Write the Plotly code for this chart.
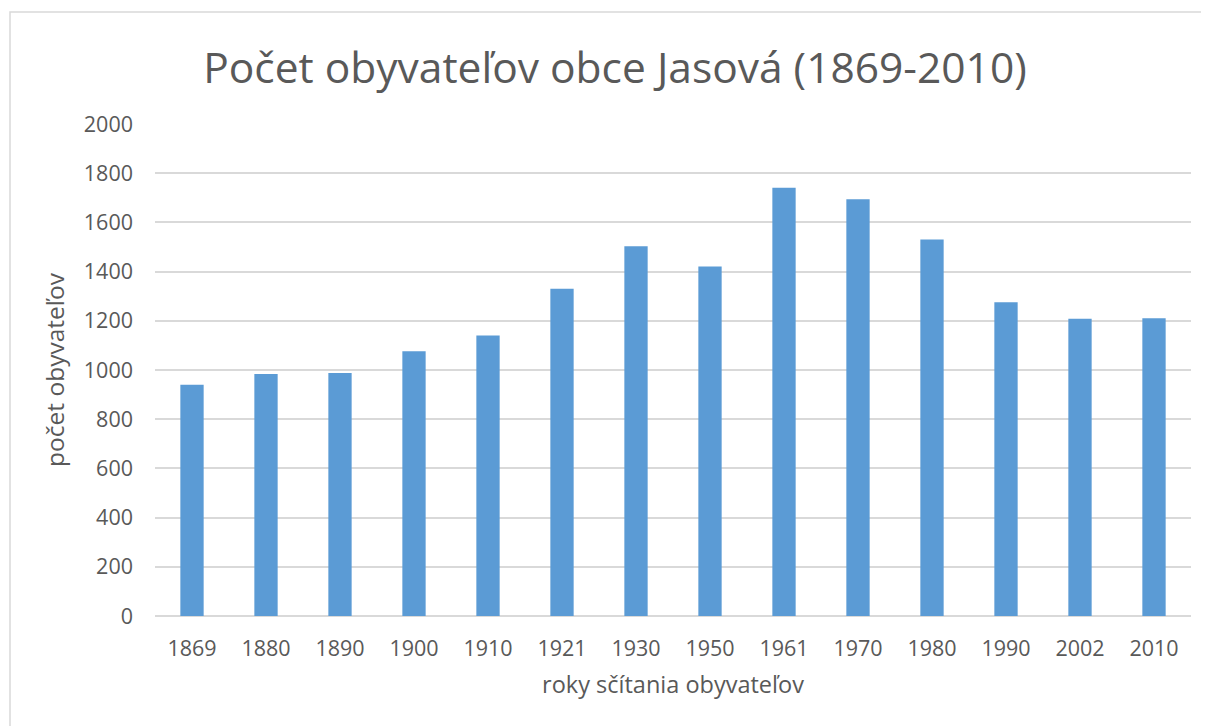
import plotly.graph_objects as go

years = ["1869", "1880", "1890", "1900", "1910", "1921", "1930",
         "1950", "1961", "1970", "1980", "1990", "2002", "2010"]
population = [940, 984, 988, 1076, 1140, 1330, 1503,
              1421, 1741, 1694, 1530, 1275, 1208, 1210]
y_ticks = [0, 200, 400, 600, 800, 1000, 1200, 1400, 1600, 1800, 2000]

title_text = "Počet obyvateľov obce Jasová (1869-2010)"
x_title = "roky sčítania obyvateľov"
y_title = "počet obyvateľov"

FONT = "Open Sans"
GRAY = "#595959"

# page body has an 8px margin; figure sized/positioned to compensate
W, H = 1201, 718
ML, MR, MT, MB = 147, 18, 116, 110
PW, PH = W - ML - MR, H - MT - MB

fig = go.Figure()
fig.add_trace(go.Bar(
    x=years, y=population,
    marker=dict(color="#5b9bd5", line=dict(width=0)),
    hoverinfo="x+y",
))

fig.update_layout(
    width=W, height=H,
    margin=dict(l=ML, r=MR, t=MT, b=MB),
    paper_bgcolor="white", plot_bgcolor="white",
    bargap=0.685,
    showlegend=False,
    font=dict(family=FONT, color=GRAY, size=21),
    title=dict(text=title_text, x=607 / W, xanchor="center",
               y=1 - 60 / H, yanchor="middle",
               font=dict(family=FONT, size=42.5, color=GRAY)),
    xaxis=dict(
        type="category", showgrid=False, showline=False, ticks="",
        tickfont=dict(family=FONT, size=21.5, color=GRAY),
        ticklabelstandoff=17,
        title=dict(text=x_title, font=dict(family=FONT, size=23.5, color=GRAY), standoff=16),
    ),
    yaxis=dict(
        range=[0, 2000], tickvals=y_ticks,
        showgrid=True, gridcolor="#d9d9d9", gridwidth=1.5,
        zeroline=True, zerolinecolor="#d9d9d9", zerolinewidth=1.5,
        showline=False, ticks="",
        tickfont=dict(family=FONT, size=21.5, color=GRAY),
        ticklabelstandoff=21,
        title=dict(text=y_title, font=dict(family=FONT, size=24.5, color=GRAY), standoff=12),
    ),
)

fig.add_shape(type="rect", xref="paper", yref="paper",
              x0=-(ML - 2) / PW, x1=1.05, y0=-0.3, y1=1 + (MT - 4) / PH,
              line=dict(color="#d9d9d9", width=1.5), fillcolor="rgba(0,0,0,0)",
              layer="below")

fig.write_html("out.html")
